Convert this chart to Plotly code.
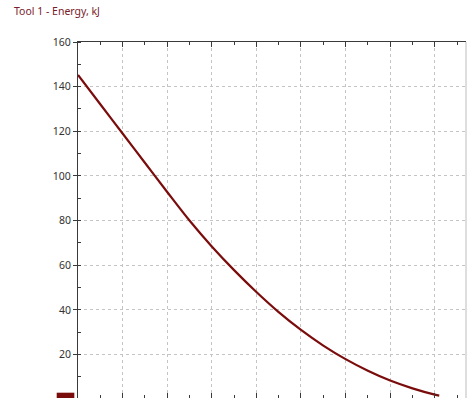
import plotly.graph_objects as go

# ---- data ----
x_pos = [0, 0.5, 1, 1.5, 2, 2.5, 3, 3.5, 4, 4.5, 5, 5.5, 6, 6.5, 7, 7.5, 8, 8.1]
energy_kj = [145.2, 132.1, 119.0, 105.9, 92.8, 80.0, 68.4, 57.8, 48.0, 39.0,
             31.0, 24.0, 17.9, 12.7, 8.3, 4.8, 2.0, 1.6]
y_tick_vals = [20, 40, 60, 80, 100, 120, 140, 160]
title_text = "Tool 1 - Energy, kJ"

LINE_COL = "#7a0c0c"
AXIS_COL = "#3a3a3a"
GRID_COL = "#c4c4c4"
FONT = "Noto Sans"

fig = go.Figure()
fig.add_trace(go.Scatter(
    x=x_pos, y=energy_kj, mode="lines",
    line=dict(color=LINE_COL, width=2.2, shape="spline", smoothing=1.0),
    hoverinfo="skip", showlegend=False, xaxis="x", yaxis="y",
))
# helper trace for the top mirrored axis
fig.add_trace(go.Scatter(
    x=x_pos, y=energy_kj, mode="lines", line=dict(width=0),
    opacity=0, hoverinfo="skip", showlegend=False, xaxis="x2", yaxis="y",
))

x_range = [0, 8.70]
fig.update_layout(
    width=472, height=398, autosize=False,
    margin=dict(l=78, r=6, t=42, b=0, pad=0),
    paper_bgcolor="white", plot_bgcolor="white",
    font=dict(family=FONT, size=10.5, color="#333333"),
    xaxis=dict(
        range=x_range, tick0=0, dtick=1, showticklabels=False,
        ticks="inside", ticklen=5, tickcolor=AXIS_COL, tickwidth=1,
        minor=dict(ticks="inside", ticklen=3, tickcolor=AXIS_COL, dtick=0.5, tick0=0, showgrid=False),
        showgrid=True, gridcolor=GRID_COL, gridwidth=1, griddash="3px,3px",
        showline=False, zeroline=False, fixedrange=True,
    ),
    xaxis2=dict(
        range=x_range, overlaying="x", side="top", anchor="y",
        tick0=0, dtick=1, showticklabels=False,
        ticks="inside", ticklen=5, tickcolor=AXIS_COL, tickwidth=1,
        minor=dict(ticks="inside", ticklen=3, tickcolor=AXIS_COL, dtick=0.5, tick0=0, showgrid=False),
        showgrid=False, showline=True, linecolor=AXIS_COL, linewidth=1,
        zeroline=False, fixedrange=True,
    ),
    yaxis=dict(
        range=[0.5, 160], tickvals=y_tick_vals,
        ticks="outside", ticklen=4, tickcolor=AXIS_COL, tickwidth=1,
        minor=dict(ticks="inside", ticklen=3, tickcolor=AXIS_COL, dtick=10, tick0=0, showgrid=False),
        showgrid=True, gridcolor=GRID_COL, gridwidth=1, griddash="3px,3px",
        showline=True, linecolor=AXIS_COL, linewidth=1, zeroline=False,
        tickfont=dict(family=FONT, size=10.5, color="#333333"), fixedrange=True,
    ),
    shapes=[
        dict(type="line", xref="paper", yref="paper", x0=1, x1=1, y0=0, y1=1,
             line=dict(color="#bdbdbd", width=1)),
        dict(type="rect", xref="paper", yref="paper", x0=-0.0549, x1=-0.0095,
             y0=-0.02, y1=0.0149, line=dict(width=0), fillcolor=LINE_COL),
    ],
    annotations=[
        dict(text=title_text, xref="paper", yref="paper", x=-78 / 388 + 12 / 388,
             y=1 + (42 - 11) / 356, xanchor="left", yanchor="middle", showarrow=False,
             font=dict(family=FONT, size=10.5, color="#7a1a2a")),
    ],
)

fig.write_html("out.html", config={"displayModeBar": False, "staticPlot": True},
               post_script="document.body.style.margin='0';")
